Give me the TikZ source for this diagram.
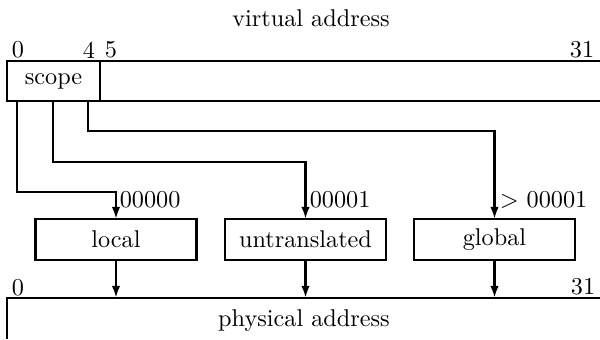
\documentclass[tikz,border=0pt]{standalone}
\usepackage{tikz}
\usetikzlibrary{arrows.meta}
\tikzset{>={Latex[length=5pt,width=3.5pt]}}
\tikzset{
  unit/.style={draw,line width=1.1pt,outer sep=0pt,minimum width=2.33cm,minimum height=0.594cm,inner sep=0pt},
  bitno/.style={inner sep=0pt}
}

\begin{document}
\begin{tikzpicture}[x=0.0145cm,y=-0.0145cm,line width=1.1pt]
    \useasboundingbox (0,0) rectangle (600,339);
    % virtual address
    \node (va) at (311,18) {virtual address};
    \node[unit,minimum width=1.349cm,minimum height=0.58cm](scope) at (53.5,81) {scope};
    \draw (scope.north east) -- (scope.north east -| 600,0);
    \draw (scope.south east) -- (scope.south east -| 600,0);
    \node[bitno](v0) at (18,50) {0};
    \node[bitno](v4) at (89,50) {4};
    \node[bitno](v5) at (111,50) {5};
    \node[bitno](v31) at (582,50) {31};
    % translation units
    \node[unit](local) at (116,239.5) {local};
    \node[unit](untr) at (305.5,239.5) {untranslated};
    \node[unit](global) at (494.5,239.5) {global};
    \draw[->] (scope.south west) ++(10,0) |- (local.north |- 0,192) -- (local.north);
    \draw[->] (scope.south west) ++(46,0) |- (untr.north |- 0,162) -- (untr.north);
    \draw[->] (scope.south west) ++(81,0) |- (global.north |- 0,131) -- (global.north);
    \node[anchor=west,inner sep=1pt](c0) at (116,200) {00000};
    \node[anchor=west,inner sep=1pt](c1) at (306,200) {00001};
    \node[anchor=west,inner sep=1pt](c2) at (496,200) {$>$ 00001};
    % physical address
    \coordinate (pa) at (7,298);
    \draw (7,339) -- (pa) -- (600,298);
    \node (pname) at (304,321) {physical address};
    \node[bitno](p0) at (18,288) {0};
    \node[bitno](p31) at (583,287) {31};
    \draw[->] (local.south) -- (local.south |- pa);
    \draw[->] (untr.south) -- (untr.south |- pa);
    \draw[->] (global.south) -- (global.south |- pa);
\end{tikzpicture}
\end{document}
